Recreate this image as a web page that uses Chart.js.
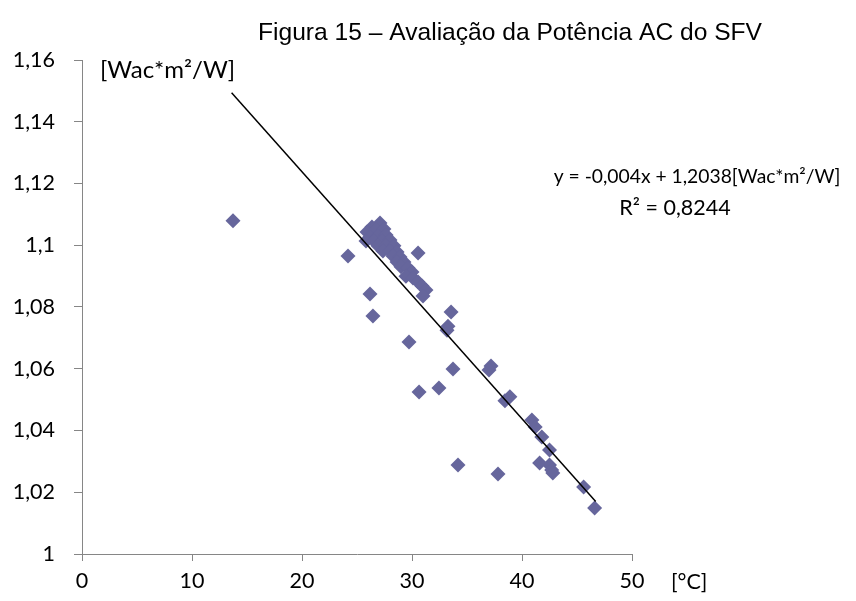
<!DOCTYPE html>
<html>
<head>
<meta charset="utf-8">
<script src="https://cdn.jsdelivr.net/npm/chart.js@4.4.1/dist/chart.umd.min.js"></script>
<style>
html,body{margin:0;padding:0;background:#fff;}
#wrap{width:856px;height:601px;position:relative;}
</style>
</head>
<body>
<div id="wrap"><canvas id="c" width="856" height="601"></canvas></div>
<script>
// Measured data (temperature [°C], AC power ratio [Wac*m²/W])
const tempC = [
  13.73, 24.18, 26.18, 26.45, 29.73, 30.55, 33.55, 33.27, 33.18, 33.73,
  30.64, 32.45, 37.18, 37.0, 38.45, 38.9, 34.18, 37.82,
  40.9, 41.2, 41.8, 42.5, 41.6, 42.5, 42.7, 42.8, 45.6, 46.6,
  27.09, 26.36, 25.91, 26.73, 27.45, 26.18, 26.91, 27.64, 25.82, 26.55,
  27.27, 28.0, 26.91, 27.64, 28.36, 27.36, 28.0, 28.64, 28.27, 28.91,
  28.64, 29.27, 29.0, 29.64, 30.0, 29.45, 30.09, 30.55, 30.91, 31.27, 31.0
];
const powerRatio = [
  1.1079, 1.0965, 1.0842, 1.0771, 1.0687, 1.0975, 1.0784, 1.0738, 1.0725, 1.0599,
  1.0525, 1.0538, 1.0609, 1.0596, 1.0496, 1.0509, 1.0288, 1.0259,
  1.0434, 1.0411, 1.0379, 1.0337, 1.0295, 1.0288, 1.0272, 1.0262, 1.0217, 1.0149,
  1.1072, 1.1059, 1.1043, 1.1050, 1.1053, 1.1027, 1.1030, 1.1033, 1.1014, 1.1014,
  1.1014, 1.1017, 1.0998, 1.0998, 1.0998, 1.0981, 1.0981, 1.0978, 1.0965, 1.0962,
  1.0946, 1.0946, 1.0930, 1.0926, 1.0913, 1.0900, 1.0894, 1.0881, 1.0868, 1.0855, 1.0836
];
// Linear trend line end points
const trendX = [13.6, 46.7];
const trendY = [1.1494, 1.0170];
// Axis ticks
const xTicks = [0, 10, 20, 30, 40, 50];
const yTicks = [1, 1.02, 1.04, 1.06, 1.08, 1.1, 1.12, 1.14, 1.16];

const titleText = 'Figura 15 – Avaliação da Potência AC do SFV';
const yUnit = '[Wac*m²/W]';
const xUnit = '[°C]';
const eqText = 'y = -0,004x + 1,2038[Wac*m²/W]';
const r2Text = 'R² = 0,8244';

const scatterData = tempC.map((x, i) => ({x: x, y: powerRatio[i]}));
const trendData = trendX.map((x, i) => ({x: x, y: trendY[i]}));

const axisGray = '#868686';
const labelFont = {family: 'Lato', size: 21.5};

const textPlugin = {
  id: 'texts',
  afterDraw(chart) {
    const ctx = chart.ctx;
    ctx.save();
    ctx.fillStyle = '#000';
    ctx.textBaseline = 'middle';
    ctx.font = '24.6px "Liberation Sans", Arial, sans-serif';
    ctx.textAlign = 'center';
    ctx.fillText(titleText, 510, 33);
    ctx.textAlign = 'left';
    ctx.font = '24px Lato';
    ctx.fillText(yUnit, 100, 70);
    ctx.font = '21.5px Lato';
    ctx.fillText(xUnit, 671, 582);
    ctx.textAlign = 'center';
    ctx.font = '19.3px Lato';
    ctx.fillText(eqText, 697, 177);
    ctx.font = '21.5px Lato';
    ctx.fillText(r2Text, 675, 208);
    ctx.restore();
  }
};

new Chart(document.getElementById('c'), {
  type: 'scatter',
  data: {
    datasets: [
      {
        label: 'dados',
        data: scatterData,
        pointStyle: 'rectRot',
        pointRadius: 7.5,
        pointHoverRadius: 7.5,
        backgroundColor: '#66669c',
        borderColor: '#66669c',
        borderWidth: 0,
        order: 2
      },
      {
        label: 'tendência',
        type: 'line',
        data: trendData,
        showLine: true,
        borderColor: '#000',
        borderWidth: 1.5,
        pointRadius: 0,
        fill: false,
        order: 1
      }
    ]
  },
  options: {
    responsive: false,
    animation: false,
    events: [],
    layout: {padding: {top: 60, right: 224, left: 0, bottom: 0}},
    plugins: {legend: {display: false}, tooltip: {enabled: false}, title: {display: false}},
    scales: {
      x: {
        type: 'linear',
        min: 0, max: 50,
        afterBuildTicks(scale) { scale.ticks = xTicks.map(v => ({value: v})); },
        afterFit(scale) { scale.height = 47; },
        ticks: {color: '#000', font: labelFont, padding: 7, maxRotation: 0,
                callback: v => String(v)},
        grid: {drawOnChartArea: false, drawTicks: true, tickLength: 7, color: axisGray, lineWidth: 1},
        border: {color: axisGray, width: 1}
      },
      y: {
        type: 'linear',
        min: 1, max: 1.16,
        afterBuildTicks(scale) { scale.ticks = yTicks.map(v => ({value: v})); },
        afterFit(scale) { scale.width = 82; },
        ticks: {color: '#000', font: labelFont, padding: 19,
                callback: v => String(Math.round(v * 100) / 100).replace('.', ',')},
        grid: {drawOnChartArea: false, drawTicks: true, tickLength: 8, color: axisGray, lineWidth: 1},
        border: {color: axisGray, width: 1}
      }
    }
  },
  plugins: [textPlugin]
});
</script>
</body>
</html>
